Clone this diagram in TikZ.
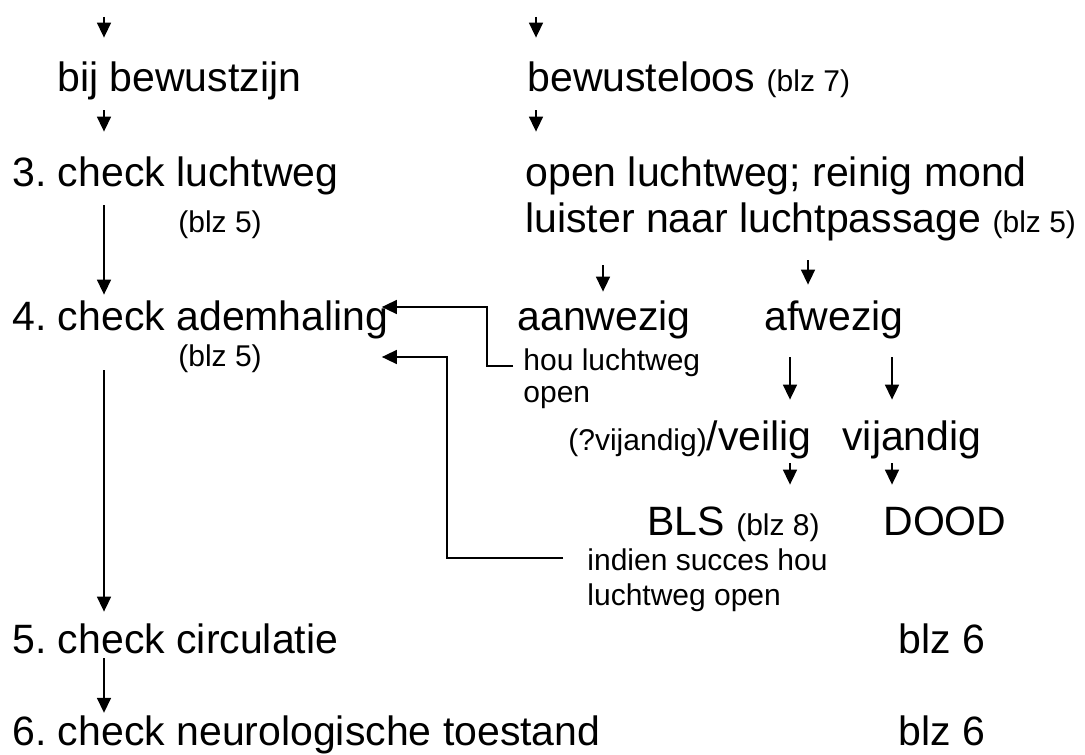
\documentclass[tikz,border=0pt]{standalone}
\usepackage{fontspec}
\setmainfont{Liberation Sans}
\usetikzlibrary{arrows.meta,calc}
\newcommand{\klein}[1]{{\fontsize{15}{18}\selectfont #1}}
\frenchspacing

\begin{document}
\begin{tikzpicture}[x=0.5pt,y=-0.5pt,
  txt/.style={anchor=base west,inner sep=0pt,font=\fontsize{20.5}{24}\selectfont,text height=15.4pt,text depth=4.3pt},
  sm/.style={txt,font=\fontsize{15}{18}\selectfont,text height=11.25pt,text depth=3.15pt},
  arr/.style={-{Triangle[length=7.5pt,width=7pt]},line width=0.8pt}]
  \useasboundingbox (0,0) rectangle (1085,754);
  % kolommen van de pijlen
  \coordinate (lx) at (104,0);
  \coordinate (rx) at (536,0);
  \coordinate (ax) at (603,0);
  \coordinate (fx) at (808,0);
  \coordinate (vx) at (790,0);
  \coordinate (dx) at (892,0);
  \coordinate (tl) at (104,17);
  \coordinate (tr) at (536,17);
  \coordinate (k1) at (487,307);
  \coordinate (k2) at (447,357);
  % linker kolom
  \node[txt] (bij) at (57,92) {bij bewustzijn};
  \node[txt] (c3) at (12,187) {3. check luchtweg};
  \node[sm] (blza) at (178,232) {(blz 5)};
  \node[txt] (c4) at (12,330) {4. check ademhaling};
  \node[sm] (blzb) at (178,366) {(blz 5)};
  \node[txt] (c5) at (12,653) {5. check circulatie};
  \node[txt] (c6) at (12,745) {6. check neurologische toestand};
  \node[txt] (p6a) at (898,653) {blz 6};
  \node[txt] (p6b) at (898,745) {blz 6};
  % rechter kolom
  \node[txt] (bew) at (527,92) {bewusteloos \klein{(blz 7)}};
  \node[txt] (open) at (525,187) {open luchtweg; reinig mond};
  \node[txt] (luis) at (525,232) {luister naar luchtpassage \klein{(blz 5)}};
  \node[txt] (aanw) at (517,330) {aanwezig};
  \node[txt] (afw) at (764,330) {afwezig};
  \node[sm] (hou) at (523,370) {hou luchtweg};
  \node[sm] (houb) at (523,402) {open};
  \node[txt] (veil) at (568,450) {\klein{(?vijandig)}/veilig};
  \node[txt] (vij) at (842,450) {vijandig};
  \node[txt] (bls) at (647,535) {BLS \klein{(blz 8)}};
  \node[txt] (dood) at (883,535) {DOOD};
  \node[sm] (ind) at (587,570) {indien succes hou};
  \node[sm] (indb) at (587,605) {luchtweg open};
  % pijlen
  \draw[arr,shorten >=11.6pt] (tl) -- (bij.north -| tl);
  \draw[arr,shorten >=11.6pt] (tr) -- (bew.north -| tr);
  \draw[arr,shorten <=4.7pt,shorten >=12.1pt] (bij.south -| lx) -- (c3.north -| lx);
  \draw[arr,shorten <=4.7pt,shorten >=12.1pt] (bew.south -| rx) -- (open.north -| rx);
  \draw[arr,shorten <=4.7pt,shorten >=2.1pt] (c3.south -| lx) -- (c4.north -| lx);
  \draw[arr,shorten <=15.7pt,shorten >=5.1pt] (c4.south -| lx) -- (c5.north -| lx);
  \draw[arr,shorten <=-1.8pt,shorten >=0.5pt] (c5.south -| lx) -- (c6.north -| lx);
  \draw[arr,shorten <=12.2pt,shorten >=3.6pt] (luis.south -| ax) -- (aanw.north -| ax);
  \draw[arr,shorten <=9.7pt,shorten >=7.1pt] (luis.south -| fx) -- (afw.north -| fx);
  \draw[arr,shorten <=9.2pt,shorten >=9.6pt] (afw.south -| vx) -- (veil.north -| vx);
  \draw[arr,shorten <=9.2pt,shorten >=9.6pt] (afw.south -| dx) -- (vij.north -| dx);
  \draw[arr,shorten <=2.2pt,shorten >=9.6pt] (veil.south -| vx) -- (bls.north -| vx);
  \draw[arr,shorten <=2.2pt,shorten >=9.6pt] (vij.south -| dx) -- (dood.north -| dx);
  % terug naar ademhaling
  \draw[arr,shorten >=-3.5pt] ([xshift=-5pt,yshift=-2pt]hou.west) -| (k1) -- (k1 -| c4.east);
  \draw[arr,shorten >=-3.5pt] ([xshift=-12pt,yshift=2pt]ind.west) -| (k2) -- (k2 -| c4.east);
\end{tikzpicture}
\end{document}
